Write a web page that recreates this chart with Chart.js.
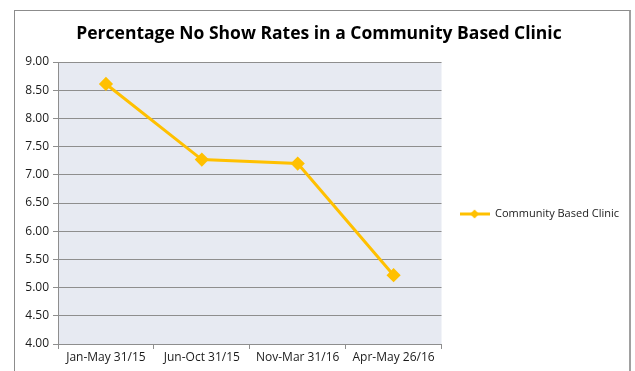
<!DOCTYPE html>
<html>
<head>
<meta charset="utf-8">
<script src="https://cdn.jsdelivr.net/npm/chart.js@4.4.0/dist/chart.umd.min.js"></script>
<style>
  html, body { margin: 0; padding: 0; background: #fff; }
  #wrap { position: relative; width: 635px; height: 371px; overflow: hidden; }
  #frame { position: absolute; left: 14px; top: 10px; width: 614px; height: 400px;
           border: 1px solid #8c8c8c; border-right: 2px solid #a0a0a0; }
  #chart { position: absolute; left: 0; top: 0; }
</style>
</head>
<body>
<div id="wrap">
  <div id="frame"></div>
  <canvas id="chart" width="635" height="371"></canvas>
</div>
<script>
// data
const categories = ['Jan-May 31/15', 'Jun-Oct 31/15', 'Nov-Mar 31/16', 'Apr-May 26/16'];
const noShowRates = [8.61, 7.27, 7.20, 5.22];
const seriesName = 'Community Based Clinic';
const chartTitle = 'Percentage No Show Rates in a Community Based Clinic';

const lineColor = '#FFC000';
const gridColor = '#8e8e8e';
const fontFamily = '"Open Sans", "Noto Sans", sans-serif';

// icoontje voor de legenda: lijn met ruitje
function legendIcon() {
  const c = document.createElement('canvas');
  c.width = 30;
  c.height = 12;
  const g = c.getContext('2d');
  g.strokeStyle = lineColor;
  g.lineWidth = 3;
  g.beginPath();
  g.moveTo(0, 6);
  g.lineTo(30, 6);
  g.stroke();
  g.fillStyle = lineColor;
  g.beginPath();
  g.moveTo(15, 1.5);
  g.lineTo(19.5, 6);
  g.lineTo(15, 10.5);
  g.lineTo(10.5, 6);
  g.closePath();
  g.fill();
  return c;
}
const icon = legendIcon();

// achtergrond van het plotgebied
const plotBackground = {
  id: 'plotBackground',
  beforeDraw(chart) {
    const a = chart.chartArea;
    const ctx = chart.ctx;
    ctx.save();
    ctx.fillStyle = '#E7EAF2';
    ctx.fillRect(a.left, a.top, a.right - a.left, a.bottom - a.top);
    ctx.restore();
  }
};

new Chart(document.getElementById('chart'), {
  type: 'line',
  data: {
    labels: categories,
    datasets: [{
      label: seriesName,
      data: noShowRates,
      borderColor: lineColor,
      backgroundColor: lineColor,
      borderWidth: 3,
      pointStyle: 'rectRot',
      pointRadius: 5,
      pointBackgroundColor: lineColor,
      pointBorderColor: lineColor,
      tension: 0
    }]
  },
  options: {
    responsive: false,
    animation: false,
    layout: { padding: { left: 9, right: 6, top: 0, bottom: 0 } },
    plugins: {
      title: {
        display: true,
        text: chartTitle,
        color: '#000',
        font: { family: fontFamily, size: 17.5, weight: 'bold' },
        padding: { top: 24, bottom: 17 }
      },
      legend: {
        position: 'right',
        fullSize: false,
        maxWidth: 194,
        // lege titel als ruimte, zodat het item iets lager staat
        title: { display: true, text: ' ', font: { size: 10 }, padding: 5 },
        labels: {
          usePointStyle: true,
          pointStyleWidth: 30,
          padding: 18,
          color: '#1a1a1a',
          font: { family: fontFamily, size: 11 },
          generateLabels(chart) {
            const items = Chart.defaults.plugins.legend.labels.generateLabels(chart);
            items.forEach(it => { it.pointStyle = icon; });
            return items;
          }
        }
      },
      tooltip: { enabled: false }
    },
    scales: {
      x: {
        offset: true,
        grid: { offset: true, drawOnChartArea: false, tickLength: 5, color: gridColor },
        border: { color: gridColor },
        ticks: { color: '#1a1a1a', font: { family: fontFamily, size: 12 }, padding: 1, maxRotation: 0 },
        afterFit(scale) { scale.height = 27; }
      },
      y: {
        min: 4,
        max: 9,
        grid: { color: gridColor, tickLength: 5 },
        border: { color: gridColor },
        ticks: {
          stepSize: 0.5,
          color: '#1a1a1a',
          font: { family: fontFamily, size: 12 },
          padding: 4,
          callback: v => v.toFixed(2)
        },
        afterFit(scale) { scale.width = 49; }
      }
    }
  },
  plugins: [plotBackground]
});
</script>
</body>
</html>
